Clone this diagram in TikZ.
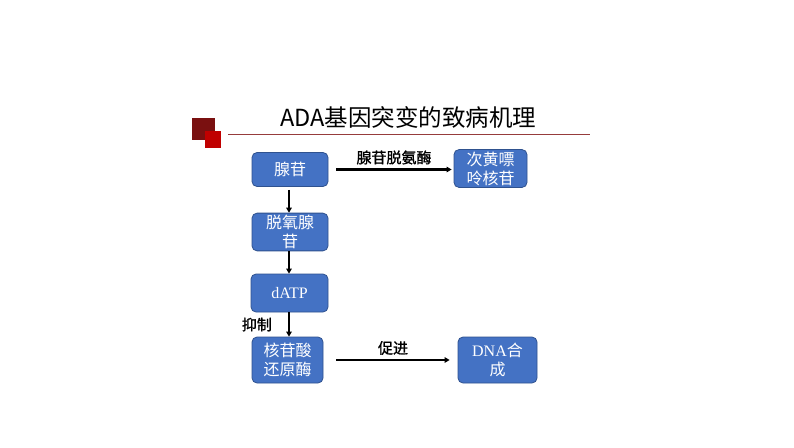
\documentclass[tikz,border=0pt]{standalone}
\usepackage{fontspec}
\setmainfont{Liberation Serif}
\newfontfamily\cjk{Noto Sans CJK SC}
\newfontfamily\cjkb[FakeBold=1.2]{Noto Sans CJK SC}
\usetikzlibrary{arrows.meta}
\definecolor{boxblue}{RGB}{68,114,196}
\definecolor{boxedge}{RGB}{47,82,143}
\definecolor{darksq}{RGB}{122,16,16}
\definecolor{redsq}{RGB}{192,0,0}
\definecolor{rule}{RGB}{150,60,60}
\tikzset{
  stepbox/.style={draw=boxedge, line width=0.8pt, fill=boxblue, rounded corners=5pt,
    text=white, align=center, inner sep=2pt, font=\fontsize{16}{19}\selectfont},
  flow/.style={line width=2.2pt, -{Triangle[length=5pt,width=5.5pt]}},
  lbl/.style={font=\fontsize{15}{17}\selectfont\cjkb, text=black, inner sep=1pt}
}
\begin{document}
\begin{tikzpicture}[x=1pt,y=-1pt]
\useasboundingbox (0,0) rectangle (794,447);
\fill[white] (0,0) rectangle (794,447);
% title decoration
\fill[darksq] (192,118) rectangle (215,140);
\fill[redsq] (205,131) rectangle (221,148);
\draw[rule, line width=0.8pt] (228,134.5) -- (590,134.5);
\node[font=\fontsize{23.5}{27}\selectfont\cjk] (title) at (408,117) {ADA基因突变的致病机理};
% boxes
\node[stepbox, minimum width=76pt, minimum height=34pt] (a) at (290,169.5) {\cjk 腺苷};
\node[stepbox, minimum width=73pt, minimum height=37pt] (h) at (490.5,168.5) {\cjk 次黄嘌\\\cjk 呤核苷};
\node[stepbox, minimum width=76pt, minimum height=36pt] (d) at (290,232) {\cjk 脱氧腺\\\cjk 苷};
\node[stepbox, minimum width=77pt, minimum height=38pt] (p) at (289.5,293) {dATP};
\node[stepbox, minimum width=71pt, minimum height=46pt] (r) at (287.5,360) {\cjk 核苷酸\\\cjk 还原酶};
\node[stepbox, minimum width=79pt, minimum height=46pt] (s) at (497.5,360) {DNA\cjk 合\\\cjk 成};
% connectors
\draw[flow] ([xshift=8pt]a.east) -- node[lbl, above=3pt] {腺苷脱氨酶} ([xshift=-2pt]h.west |- a.east);
\draw[flow] ([yshift=-3pt]a.south -| 289,0) -- (d.north -| 289,0);
\draw[flow] (d.south -| 289,0) -- (p.north -| 289,0);
\draw[flow] (p.south -| 289,0) -- node[lbl, left=15pt] {抑制} (r.north -| 289,0);
\draw[flow] ([xshift=13pt]r.east) -- node[lbl, above=3pt] {促进} ([xshift=-8pt]s.west);
\end{tikzpicture}
\end{document}
